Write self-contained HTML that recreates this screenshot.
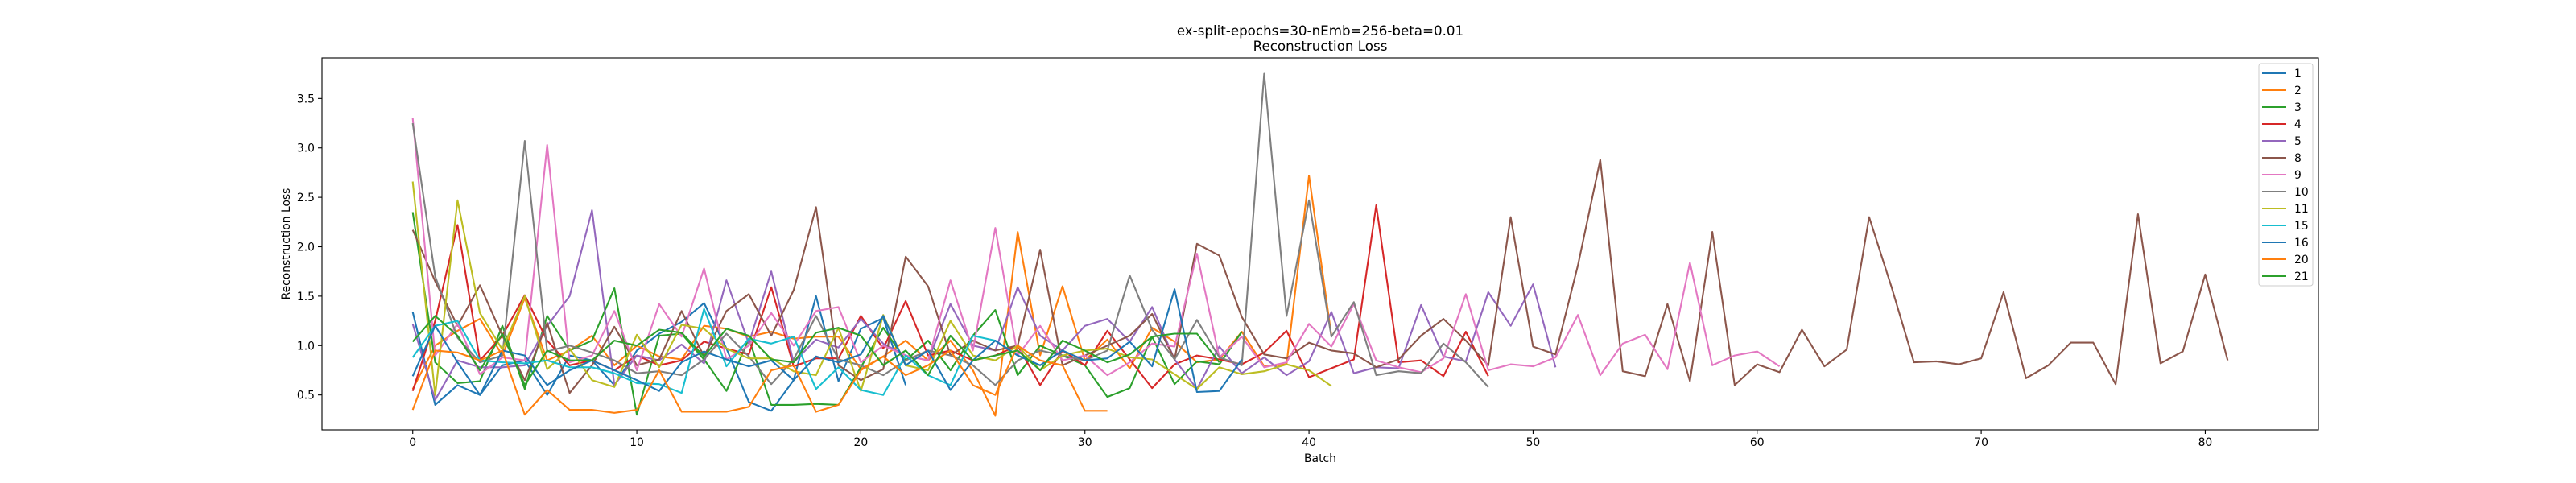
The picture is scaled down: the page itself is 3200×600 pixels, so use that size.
<!DOCTYPE html>
<html><head><meta charset="utf-8"><style>
html,body{margin:0;padding:0;background:#fff;}
svg{display:block;font-family:"DejaVu Sans","Liberation Sans",sans-serif;}
</style></head><body>
<svg id="chart" width="3200" height="600" viewBox="0 0 3200 600" xmlns="http://www.w3.org/2000/svg">
<rect width="3200" height="600" fill="#fff"/>
<text x="1640" y="44" font-size="16.7" text-anchor="middle">ex-split-epochs=30-nEmb=256-beta=0.01</text>
<text x="1640" y="63" font-size="16.7" text-anchor="middle">Reconstruction Loss</text>
<g id="plot"></g>
<text x="1640" y="574" font-size="13.9" text-anchor="middle">Batch</text>
<text x="0" y="0" font-size="13.9" text-anchor="middle" transform="translate(360,303) rotate(-90)">Reconstruction Loss</text>
</svg>
<script>
const seriesNames = ["1","2","3","4","5","8","9","10","11","15","16","20","21"];
const seriesColors = ["#1f77b4","#ff7f0e","#2ca02c","#d62728","#9467bd","#8c564b","#e377c2","#7f7f7f","#bcbd22","#17becf","#1f77b4","#ff7f0e","#2ca02c"];
const s1 = [1.34,0.40,0.60,0.50,0.80,0.85,0.50,0.90,0.85,0.60,0.95,1.12,1.24,1.43,0.97,0.43,0.34,0.65,1.50,0.64,1.17,1.28,0.60];
const s2 = [0.56,1.00,1.15,1.27,0.90,1.48,0.85,0.95,1.10,0.80,1.00,0.89,0.86,1.20,1.17,1.09,1.14,1.07,1.09,1.09,0.76,0.89,1.05,0.85,1.05,0.75,0.29,2.15,0.90,1.60,0.85,1.06,0.77,1.18,1.04,0.83,0.86,1.14,0.79,0.81,2.72,1.10];
const s3 = [2.35,0.83,0.62,0.64,1.20,0.56,1.30,0.95,1.05,1.58,0.30,1.10,1.12,0.86,0.54,1.07,0.40,0.40,0.41,0.40,0.78,1.18,0.85,1.05,0.75,1.10,1.36,0.70,1.00,0.90,0.80,0.48,0.57,1.09,0.61,0.84,0.81,1.14];
const s4 = [0.54,1.25,2.22,0.85,1.10,1.51,1.05,0.80,0.85,0.75,0.90,0.80,0.85,1.04,0.97,0.91,1.59,0.79,0.87,0.87,1.30,0.97,1.45,0.90,0.95,0.85,0.90,1.00,0.60,0.95,0.80,1.15,0.86,0.57,0.81,0.90,0.86,0.81,0.93,1.15,0.68,0.77,0.86,2.42,0.83,0.85,0.69,1.14,0.69];
const s5 = [1.22,0.45,0.85,0.78,0.78,0.80,1.20,1.50,2.37,0.60,0.90,0.85,1.01,0.82,1.66,1.02,1.75,0.83,1.06,0.98,1.27,1.02,0.90,0.85,1.42,1.00,0.95,1.59,1.10,0.95,1.20,1.27,1.04,1.39,0.86,0.56,0.99,0.72,0.88,0.70,0.84,1.34,0.72,0.78,0.77,1.41,0.89,0.84,1.54,1.20,1.62,0.78];
const s8 = [2.17,1.65,1.20,1.61,1.10,0.65,1.23,0.52,0.80,1.19,0.80,0.86,1.35,0.89,1.35,1.52,1.10,1.56,2.40,0.80,0.65,0.76,1.90,1.60,0.90,1.05,0.95,1.00,1.97,0.80,0.90,1.00,1.10,1.32,0.86,2.03,1.91,1.29,0.91,0.87,1.03,0.95,0.92,0.78,0.86,1.10,1.27,1.05,0.80,2.30,0.99,0.91,1.81,2.88,0.74,0.69,1.42,0.64,2.15,0.60,0.81,0.73,1.16,0.79,0.96,2.30,1.59,0.83,0.84,0.81,0.87,1.54,0.67,0.80,1.03,1.03,0.61,2.33,0.82,0.94,1.72,0.85];
const s9 = [3.30,0.90,1.22,0.71,0.88,0.85,3.03,0.83,0.90,1.35,0.75,1.42,1.09,1.78,0.86,1.00,1.33,1.00,1.35,1.39,0.83,1.00,0.90,0.85,1.66,0.95,2.19,0.90,1.20,0.85,0.90,0.70,0.83,1.02,0.99,1.93,0.88,1.09,0.78,0.83,1.22,0.99,1.42,0.85,0.78,0.73,0.87,1.52,0.75,0.81,0.79,0.88,1.31,0.70,1.02,1.11,0.76,1.84,0.80,0.90,0.94,0.79];
const s10 = [3.25,1.70,1.08,0.83,0.90,3.07,0.94,1.00,0.93,0.85,0.72,0.74,0.70,0.86,1.12,0.89,0.61,0.86,1.30,0.86,0.80,0.70,0.85,0.95,0.90,0.80,0.60,0.85,0.95,0.90,0.85,0.95,1.71,1.16,0.86,1.26,0.88,0.80,3.75,1.30,2.47,1.09,1.44,0.70,0.74,0.72,1.02,0.83,0.58];
const s11 = [2.66,0.50,2.47,1.33,0.96,1.50,0.76,0.97,0.65,0.58,1.11,0.78,1.21,1.17,0.97,0.87,0.87,0.74,0.70,1.18,0.54,1.31,0.80,0.75,1.25,0.90,0.85,1.00,0.75,0.90,0.95,0.97,0.88,0.86,0.71,0.56,0.78,0.71,0.74,0.81,0.75,0.59];
const s15 = [0.88,1.20,1.25,0.85,0.83,0.82,0.85,0.78,0.78,0.72,0.62,0.61,0.52,1.37,0.79,1.07,1.02,1.09,0.56,0.78,0.55,0.50,0.90,0.70,0.60,1.10,1.05,0.90,0.80];
const s16 = [0.69,1.20,0.83,0.50,0.95,0.90,0.60,0.75,0.85,0.75,0.65,0.54,0.83,0.94,0.86,0.79,0.85,0.65,0.89,0.83,0.91,1.30,0.80,0.95,0.55,0.85,1.05,0.90,0.80,0.95,0.85,0.87,1.04,0.79,1.57,0.53,0.54,0.86];
const s20 = [0.35,0.95,0.93,0.85,0.95,0.30,0.55,0.35,0.35,0.32,0.35,0.75,0.33,0.33,0.33,0.38,0.75,0.80,0.33,0.40,0.75,0.89,0.70,0.80,0.95,0.60,0.50,1.00,0.85,0.80,0.34,0.34];
const s21 = [1.04,1.30,1.10,0.75,1.12,0.60,0.95,0.85,0.85,1.05,1.00,1.16,1.13,0.89,1.17,1.10,0.86,0.83,1.13,1.18,1.10,0.80,0.95,0.70,1.10,0.85,0.90,0.95,0.75,1.05,0.95,0.83,0.91,1.09,1.12,1.12,0.83];
const allSeries = [s1,s2,s3,s4,s5,s8,s9,s10,s11,s15,s16,s20,s21];
const xTicks = [0,10,20,30,40,50,60,70,80];
const yTicks = [0.5,1.0,1.5,2.0,2.5,3.0,3.5];
const yTickLabels = ["0.5","1.0","1.5","2.0","2.5","3.0","3.5"];

const L=400,R=2880,T=72,B=534;
const XMIN=-4.05,XMAX=85.05,YMIN=0.147,YMAX=3.91;
function xs(v){return L+(v-XMIN)/(XMAX-XMIN)*(R-L);}
function ys(v){return B-(v-YMIN)/(YMAX-YMIN)*(B-T);}
const NS="http://www.w3.org/2000/svg";
const plot=document.getElementById('plot');
function mk(tag,attrs,parent){const e=document.createElementNS(NS,tag);for(const k in attrs)e.setAttribute(k,attrs[k]);(parent||plot).appendChild(e);return e;}

allSeries.forEach((arr,si)=>{
  const pts=arr.map((v,i)=>xs(i).toFixed(1)+","+ys(v).toFixed(1)).join(" ");
  const pl=mk('polyline',{points:pts,fill:'none',stroke:seriesColors[si],'stroke-width':2.1,'stroke-linejoin':'round'});
  
  
});
mk('rect',{x:L,y:T,width:R-L,height:B-T,fill:'none',stroke:'#000','stroke-width':1.1});
xTicks.forEach(t=>{
  const x=xs(t);
  mk('line',{x1:x,y1:B,x2:x,y2:B+5,stroke:'#000','stroke-width':1.1});
  const tx=mk('text',{x:x,y:B+20,'font-size':13.9,'text-anchor':'middle'});
  tx.textContent=String(t);
  
  
});
yTicks.forEach((t,i)=>{
  const y=ys(t);
  mk('line',{x1:L-5,y1:y,x2:L,y2:y,stroke:'#000','stroke-width':1.1});
  const tx=mk('text',{x:L-9,y:y+5,'font-size':13.9,'text-anchor':'end'});
  tx.textContent=yTickLabels[i];
  
  
});
const lg=mk('g',{});


mk('rect',{x:2806,y:79,width:67,height:276,rx:3,fill:'#fff','fill-opacity':0.8,stroke:'#ccc','stroke-width':1},lg);
seriesNames.forEach((n,i)=>{
  const y=91+i*21;
  const g=mk('g',{},lg);
  
  
  mk('line',{x1:2810,y1:y,x2:2840,y2:y,stroke:seriesColors[i],'stroke-width':2.1},g);
  const t=mk('text',{x:2850,y:y+5,'font-size':13.9},g);
  t.textContent=n;
});
</script>
</body></html>
